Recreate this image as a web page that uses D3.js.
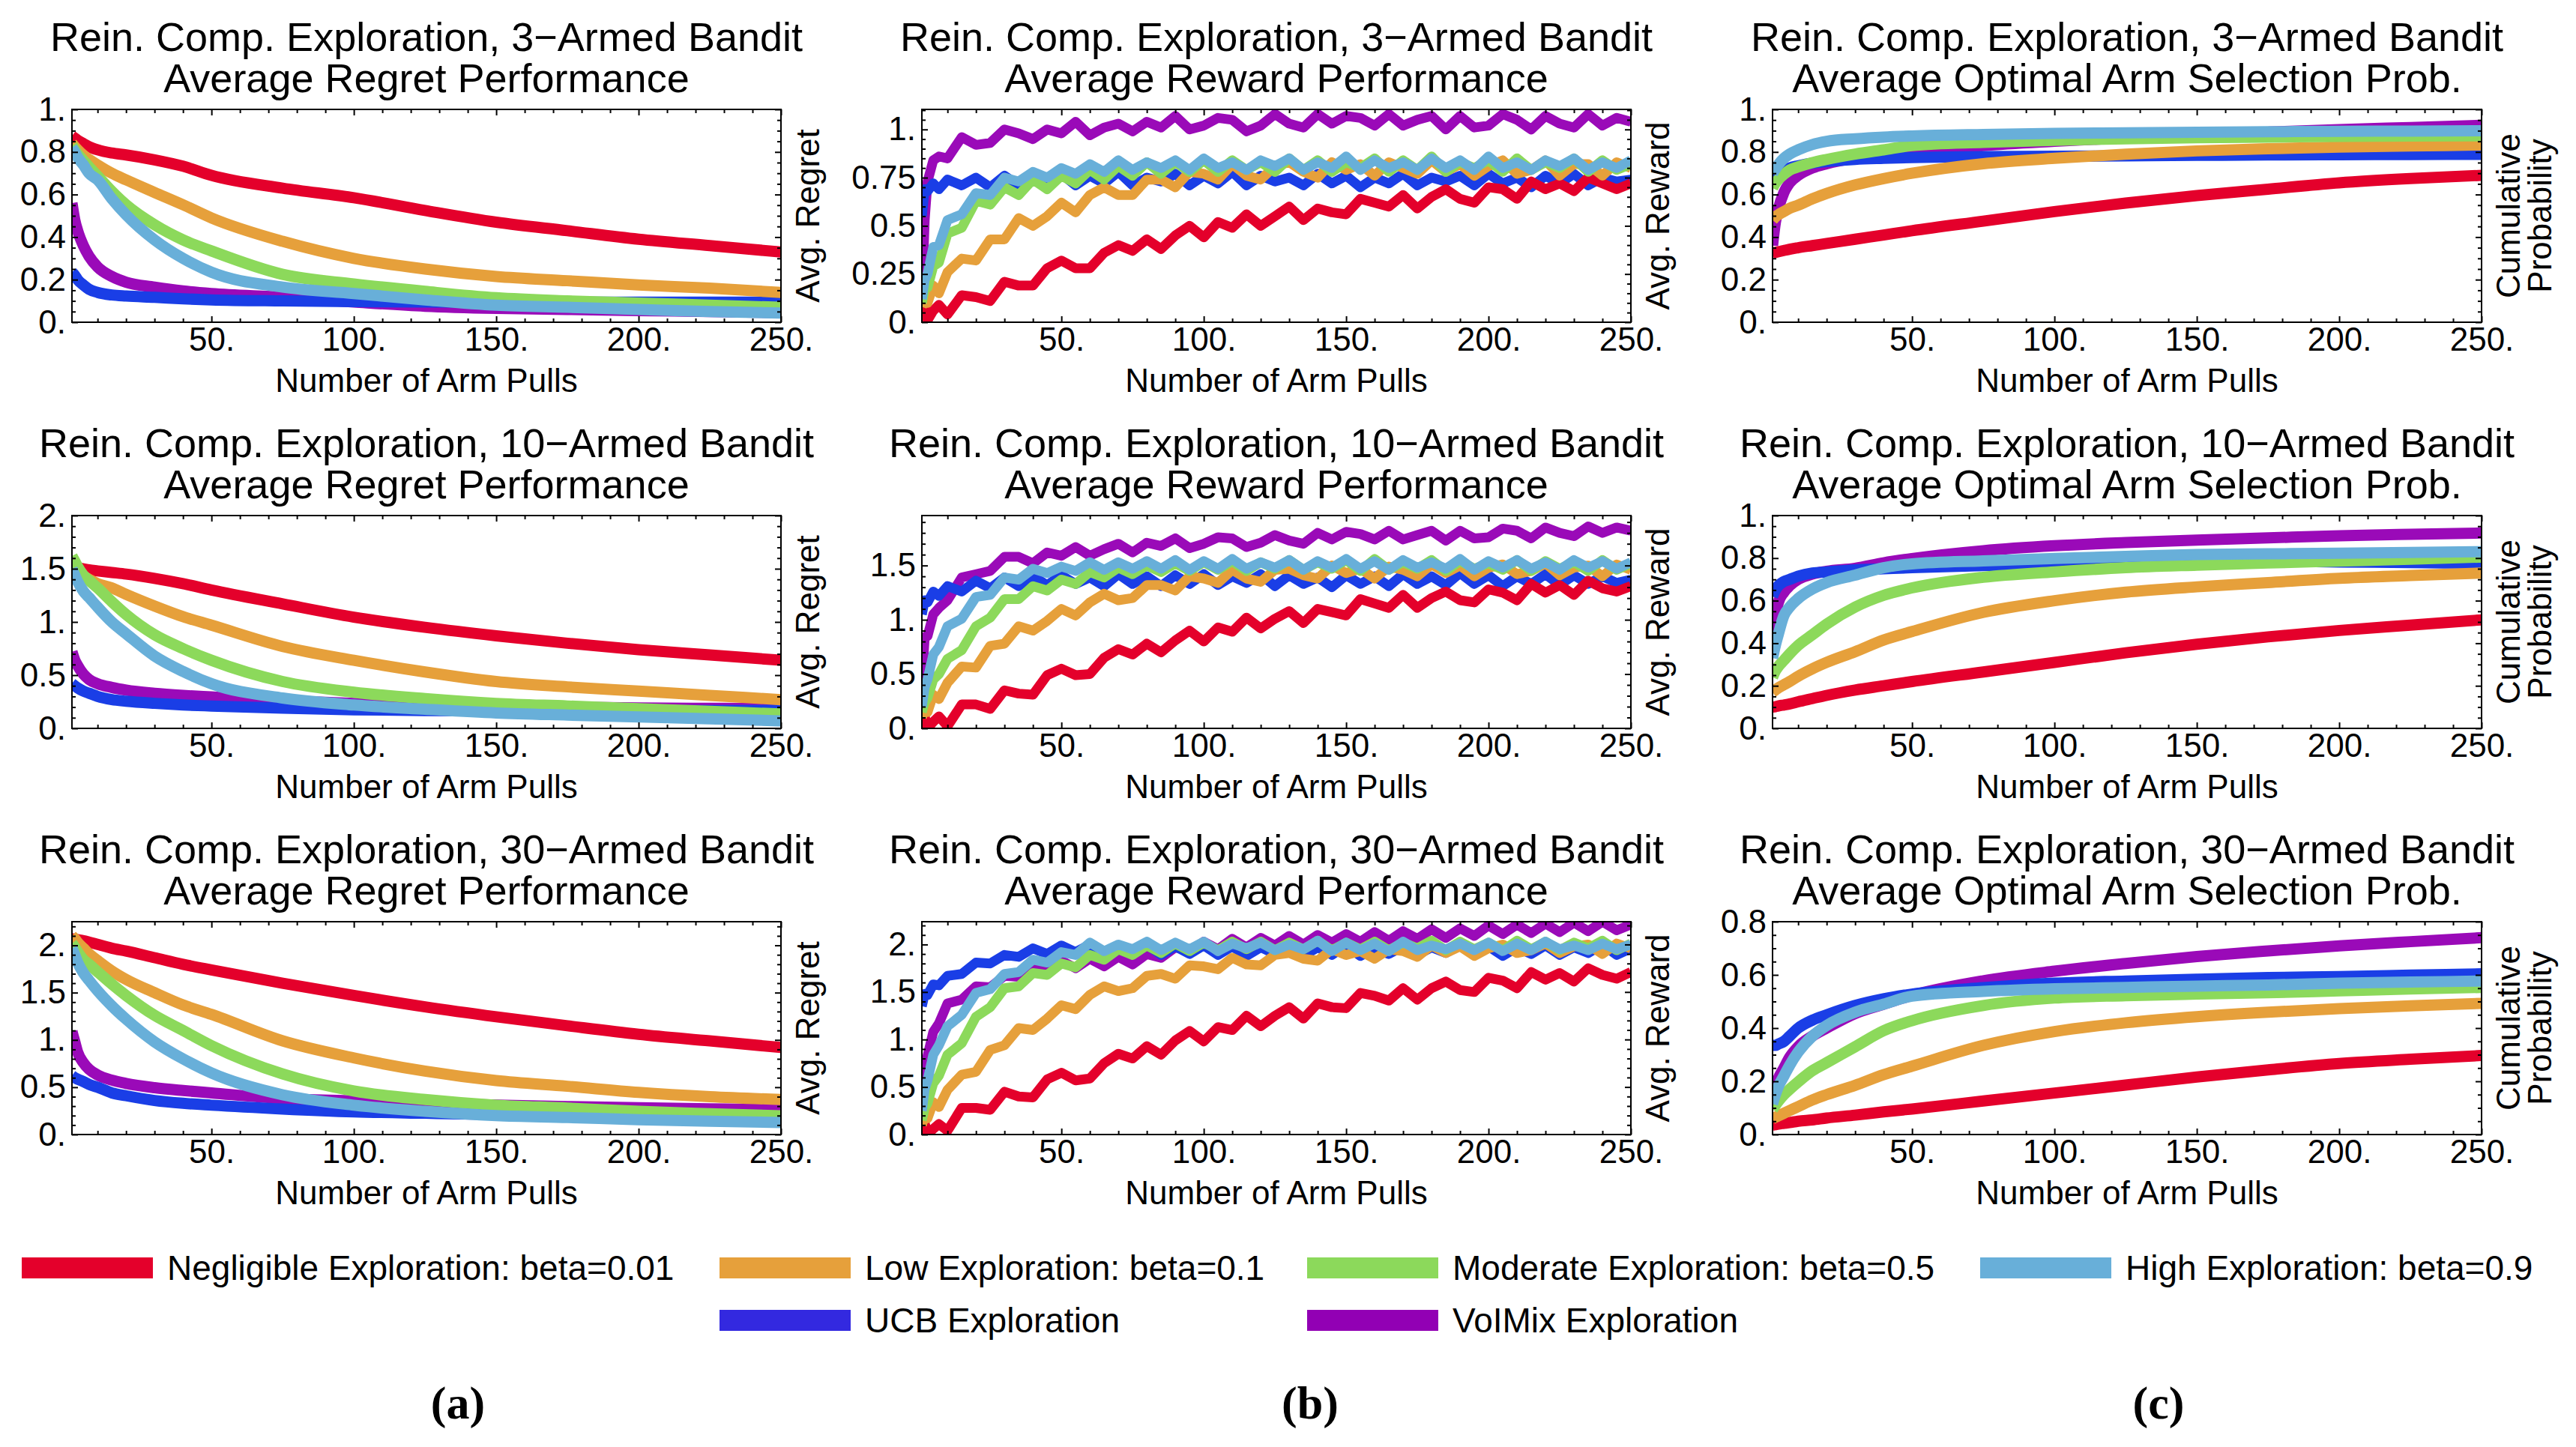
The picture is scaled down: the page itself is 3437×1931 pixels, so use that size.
<!DOCTYPE html>
<html>
<head>
<meta charset="utf-8">
<title>Rein. Comp. Exploration - bandit results</title>
<script src="https://cdnjs.cloudflare.com/ajax/libs/d3/7.8.5/d3.min.js"></script>
<style>
  body { margin: 0; background: #fff; }
  text { font-family: "Liberation Sans", Arial, Helvetica, sans-serif; fill: #000; }
</style>
</head>
<body>
<div id="fig"></div>
<script>
// series order: negligible, low, moderate, high, UCB, VoIMix
var seriesNames = ["Negligible Exploration: beta=0.01", "Low Exploration: beta=0.1",
  "Moderate Exploration: beta=0.5", "High Exploration: beta=0.9", "UCB Exploration", "VoIMix Exploration"];
var armCounts = ["3", "10", "30"];

// x positions of the smooth curves (regret, probability)
var smoothX = [1, 2, 3, 5, 7, 10, 15, 20, 30, 40, 50, 75, 100, 125, 150, 175, 200, 225, 250];
// x positions of the noisy reward curves
var rewardX = [1, 2, 3, 5, 7, 10, 15, 20, 25, 30, 35, 40, 45, 50, 55, 60, 65, 70, 75, 80, 85, 90, 95, 100,
  105, 110, 115, 120, 125, 130, 135, 140, 145, 150, 155, 160, 165, 170, 175, 180, 185, 190, 195, 200,
  205, 210, 215, 220, 225, 230, 235, 240, 245, 250];

// ---- 3-armed ----
var regret3 = [
  [.875, .865, .855, .84, .825, .81, .795, .786, .763, .733, .69, .63, .585, .525, .47, .43, .39, .36, .33],
  [.84, .825, .81, .785, .765, .739, .70, .669, .61, .552, .49, .38, .30, .25, .215, .195, .175, .16, .14],
  [.83, .81, .79, .76, .73, .687, .615, .552, .458, .387, .335, .225, .18, .145, .115, .10, .09, .08, .07],
  [.82, .80, .775, .74, .70, .669, .58, .505, .387, .30, .235, .165, .135, .105, .08, .07, .06, .05, .043],
  [.235, .22, .20, .175, .155, .14, .128, .123, .117, .11, .105, .10, .097, .095, .094, .094, .094, .094, .094],
  [.56, .48, .43, .36, .31, .26, .215, .188, .165, .147, .135, .118, .095, .075, .065, .06, .055, .05, .045]
];
var reward3 = [
  [.03, .09, .01, .06, .09, .04, .14, .13, .11, .21, .19, .19, .28, .32, .28, .28, .36, .40, .37, .43, .38, .45, .50, .44, .52, .49, .56, .50, .55, .60, .53, .59, .57, .56, .64, .62, .60, .66, .59, .65, .69, .64, .62, .70, .69, .64, .73, .69, .72, .68, .75, .72, .69, .72],
  [.08, .12, .10, .19, .15, .26, .33, .32, .43, .43, .54, .50, .55, .62, .57, .66, .70, .66, .66, .74, .74, .70, .78, .77, .74, .82, .76, .74, .81, .83, .78, .75, .83, .79, .82, .76, .83, .80, .77, .84, .78, .82, .76, .81, .84, .77, .79, .84, .76, .82, .82, .76, .83, .80],
  [.10, .17, .18, .29, .31, .46, .49, .63, .61, .70, .66, .74, .69, .76, .72, .79, .74, .81, .76, .83, .77, .83, .78, .84, .78, .84, .79, .83, .78, .85, .79, .84, .78, .83, .80, .85, .78, .84, .79, .86, .78, .83, .80, .84, .78, .85, .79, .83, .80, .85, .78, .84, .79, .82],
  [.12, .22, .25, .39, .40, .53, .56, .67, .66, .75, .73, .78, .75, .80, .77, .82, .78, .84, .79, .83, .80, .84, .79, .85, .80, .83, .79, .84, .81, .85, .79, .83, .80, .86, .79, .84, .80, .83, .79, .85, .80, .84, .79, .86, .80, .83, .79, .84, .81, .85, .79, .83, .80, .84],
  [.55, .69, .68, .72, .69, .74, .71, .75, .70, .76, .71, .75, .72, .77, .71, .76, .72, .78, .71, .75, .73, .77, .71, .76, .72, .78, .71, .76, .73, .75, .71, .77, .72, .76, .70, .75, .72, .77, .71, .75, .73, .76, .71, .77, .72, .75, .70, .76, .72, .77, .71, .75, .73, .74],
  [.10, .53, .73, .84, .86, .85, .96, .92, .93, 1.00, .98, .95, 1.00, .98, 1.04, .97, 1.01, 1.03, .99, 1.04, 1.01, 1.07, 1.00, 1.02, 1.06, 1.05, .99, 1.02, 1.08, 1.03, 1.01, 1.08, 1.03, 1.07, 1.06, 1.02, 1.08, 1.02, 1.05, 1.07, 1.00, 1.07, 1.01, 1.02, 1.08, 1.05, 1.00, 1.07, 1.03, 1.01, 1.08, 1.02, 1.06, 1.04]
];
var prob3 = [
  [.325, .328, .331, .337, .343, .35, .36, .37, .39, .41, .43, .475, .52, .56, .595, .625, .655, .675, .69],
  [.48, .495, .505, .52, .535, .55, .58, .605, .645, .675, .70, .745, .77, .79, .805, .815, .823, .828, .833],
  [.63, .655, .67, .695, .715, .73, .75, .765, .79, .81, .83, .845, .855, .862, .867, .87, .873, .875, .876],
  [.70, .72, .74, .77, .79, .81, .835, .85, .862, .87, .875, .882, .887, .89, .893, .895, .897, .898, .90],
  [.65, .67, .69, .71, .725, .735, .748, .755, .765, .77, .774, .778, .78, .782, .784, .786, .787, .788, .789],
  [.36, .47, .53, .61, .655, .69, .725, .745, .772, .788, .80, .83, .85, .867, .88, .893, .905, .915, .925]
];

// ---- 10-armed ----
var regret10 = [
  [1.52, 1.515, 1.51, 1.50, 1.49, 1.48, 1.465, 1.45, 1.41, 1.36, 1.30, 1.17, 1.045, .95, .87, .80, .74, .69, .64],
  [1.50, 1.48, 1.46, 1.43, 1.40, 1.36, 1.32, 1.26, 1.15, 1.05, .97, .77, .64, .53, .44, .39, .35, .31, .27],
  [1.62, 1.57, 1.52, 1.44, 1.39, 1.32, 1.19, 1.07, .88, .75, .64, .44, .34, .28, .235, .21, .185, .16, .135],
  [1.50, 1.44, 1.38, 1.29, 1.23, 1.14, 1.00, .89, .68, .535, .42, .285, .22, .18, .145, .125, .108, .09, .07],
  [.42, .40, .38, .35, .33, .30, .27, .255, .235, .22, .21, .19, .175, .168, .165, .165, .166, .168, .17],
  [.72, .64, .59, .51, .46, .42, .385, .36, .33, .31, .295, .26, .235, .22, .21, .20, .192, .188, .185]
];
var reward10 = [
  [.03, .11, .00, .06, .11, .02, .22, .22, .18, .35, .32, .31, .49, .55, .49, .50, .65, .73, .68, .78, .70, .81, .90, .80, .93, .89, 1.02, .92, 1.01, 1.08, .97, 1.10, 1.07, 1.04, 1.19, 1.15, 1.11, 1.23, 1.11, 1.20, 1.26, 1.18, 1.16, 1.28, 1.25, 1.18, 1.33, 1.25, 1.32, 1.23, 1.36, 1.29, 1.26, 1.31],
  [.10, .18, .15, .31, .27, .42, .57, .56, .76, .78, .94, .90, .99, 1.10, 1.04, 1.16, 1.24, 1.18, 1.20, 1.32, 1.32, 1.27, 1.40, 1.38, 1.34, 1.46, 1.38, 1.35, 1.46, 1.47, 1.41, 1.38, 1.50, 1.43, 1.47, 1.38, 1.49, 1.46, 1.40, 1.51, 1.43, 1.50, 1.40, 1.48, 1.51, 1.42, 1.45, 1.52, 1.41, 1.48, 1.50, 1.40, 1.51, 1.46],
  [.15, .24, .28, .45, .50, .64, .72, .94, 1.02, 1.19, 1.19, 1.31, 1.27, 1.37, 1.33, 1.44, 1.39, 1.48, 1.42, 1.50, 1.44, 1.52, 1.45, 1.53, 1.46, 1.54, 1.45, 1.53, 1.47, 1.55, 1.46, 1.53, 1.47, 1.55, 1.45, 1.56, 1.46, 1.53, 1.47, 1.55, 1.45, 1.54, 1.47, 1.52, 1.46, 1.55, 1.45, 1.54, 1.47, 1.53, 1.45, 1.55, 1.46, 1.52],
  [.20, .38, .45, .68, .75, .94, 1.01, 1.21, 1.23, 1.39, 1.37, 1.47, 1.43, 1.49, 1.45, 1.53, 1.46, 1.53, 1.47, 1.54, 1.47, 1.55, 1.46, 1.54, 1.47, 1.56, 1.47, 1.53, 1.48, 1.55, 1.46, 1.54, 1.48, 1.56, 1.47, 1.54, 1.46, 1.55, 1.48, 1.53, 1.47, 1.56, 1.46, 1.54, 1.48, 1.55, 1.47, 1.53, 1.46, 1.55, 1.48, 1.54, 1.47, 1.53],
  [1.05, 1.18, 1.16, 1.26, 1.22, 1.31, 1.26, 1.36, 1.29, 1.39, 1.31, 1.40, 1.32, 1.41, 1.33, 1.39, 1.31, 1.42, 1.33, 1.40, 1.31, 1.41, 1.33, 1.42, 1.32, 1.40, 1.34, 1.42, 1.31, 1.41, 1.33, 1.39, 1.30, 1.41, 1.33, 1.40, 1.31, 1.42, 1.33, 1.40, 1.32, 1.43, 1.33, 1.41, 1.31, 1.40, 1.33, 1.42, 1.32, 1.41, 1.33, 1.40, 1.34, 1.37],
  [.40, .84, .85, 1.05, 1.11, 1.18, 1.39, 1.42, 1.45, 1.58, 1.58, 1.52, 1.62, 1.59, 1.67, 1.59, 1.65, 1.70, 1.62, 1.71, 1.68, 1.75, 1.66, 1.70, 1.76, 1.75, 1.67, 1.71, 1.78, 1.73, 1.70, 1.80, 1.74, 1.81, 1.79, 1.74, 1.82, 1.74, 1.78, 1.82, 1.73, 1.82, 1.75, 1.76, 1.84, 1.82, 1.75, 1.85, 1.80, 1.77, 1.86, 1.80, 1.85, 1.82]
];
var prob10 = [
  [.10, .102, .105, .11, .115, .125, .14, .155, .18, .20, .22, .265, .31, .355, .395, .43, .46, .485, .51],
  [.17, .18, .19, .205, .22, .245, .28, .31, .36, .415, .455, .545, .60, .64, .665, .685, .705, .718, .73],
  [.24, .27, .29, .32, .35, .39, .44, .49, .57, .625, .66, .71, .735, .755, .767, .777, .786, .795, .805],
  [.33, .39, .44, .53, .57, .61, .655, .685, .72, .755, .773, .787, .798, .808, .817, .82, .823, .827, .83],
  [.62, .65, .67, .69, .70, .715, .73, .735, .745, .75, .755, .765, .773, .78, .784, .785, .782, .779, .776],
  [.38, .51, .59, .64, .67, .70, .725, .738, .752, .778, .798, .835, .858, .873, .885, .895, .905, .912, .918]
];

// ---- 30-armed ----
var regret30 = [
  [2.07, 2.065, 2.06, 2.05, 2.035, 2.01, 1.97, 1.94, 1.87, 1.80, 1.74, 1.60, 1.47, 1.35, 1.245, 1.15, 1.06, .99, .92],
  [2.10, 2.07, 2.03, 1.97, 1.91, 1.84, 1.73, 1.64, 1.50, 1.37, 1.27, .99, .81, .67, .57, .51, .445, .40, .37],
  [2.02, 1.98, 1.93, 1.85, 1.80, 1.72, 1.59, 1.47, 1.26, 1.10, .94, .64, .46, .37, .31, .28, .245, .22, .198],
  [1.97, 1.90, 1.82, 1.71, 1.63, 1.52, 1.36, 1.22, .98, .80, .65, .42, .31, .245, .20, .18, .157, .14, .127],
  [.62, .60, .585, .56, .53, .50, .44, .41, .36, .33, .31, .27, .24, .225, .212, .205, .198, .19, .185],
  [1.09, .98, .87, .76, .69, .63, .575, .54, .495, .465, .44, .38, .355, .33, .31, .295, .283, .272, .263]
];
var reward30 = [
  [.03, .12, .00, .06, .11, .04, .28, .28, .26, .45, .40, .39, .58, .65, .57, .59, .75, .85, .80, .93, .84, .99, 1.09, .98, 1.13, 1.10, 1.25, 1.14, 1.25, 1.34, 1.22, 1.38, 1.34, 1.33, 1.49, 1.46, 1.41, 1.54, 1.42, 1.54, 1.61, 1.52, 1.50, 1.65, 1.62, 1.54, 1.71, 1.63, 1.70, 1.61, 1.75, 1.68, 1.64, 1.71],
  [.10, .19, .17, .34, .29, .47, .63, .66, .89, .94, 1.12, 1.10, 1.22, 1.36, 1.32, 1.47, 1.56, 1.51, 1.54, 1.67, 1.69, 1.64, 1.78, 1.77, 1.74, 1.86, 1.79, 1.78, 1.89, 1.91, 1.85, 1.83, 1.95, 1.89, 1.93, 1.85, 1.95, 1.93, 1.87, 1.99, 1.91, 1.98, 1.88, 1.96, 2.00, 1.91, 1.94, 2.01, 1.91, 1.98, 2.00, 1.90, 2.01, 1.96],
  [.15, .28, .33, .54, .62, .84, .96, 1.24, 1.34, 1.54, 1.56, 1.70, 1.68, 1.80, 1.76, 1.89, 1.84, 1.95, 1.89, 1.99, 1.91, 2.01, 1.93, 2.02, 1.94, 2.03, 1.95, 2.03, 1.94, 2.02, 1.95, 2.04, 1.94, 2.02, 1.95, 2.03, 1.94, 2.02, 1.96, 2.04, 1.94, 2.03, 1.95, 2.02, 1.94, 2.04, 1.95, 2.03, 1.94, 2.02, 1.96, 2.04, 1.94, 2.01],
  [.25, .48, .57, .84, .94, 1.14, 1.26, 1.49, 1.53, 1.69, 1.71, 1.84, 1.81, 1.92, 1.89, 2.02, 1.93, 2.00, 1.95, 2.03, 1.94, 2.02, 1.95, 2.03, 1.93, 2.01, 1.96, 2.02, 1.94, 2.00, 1.95, 2.04, 1.93, 2.02, 1.94, 2.01, 1.93, 2.03, 1.94, 1.99, 1.95, 2.01, 1.94, 2.02, 1.93, 2.01, 1.94, 2.03, 1.95, 1.99, 1.94, 2.01, 1.95, 2.00],
  [1.35, 1.48, 1.47, 1.58, 1.57, 1.67, 1.69, 1.81, 1.80, 1.89, 1.87, 1.96, 1.90, 1.99, 1.92, 2.00, 1.90, 1.99, 1.91, 2.00, 1.89, 1.98, 1.90, 1.99, 1.89, 1.98, 1.88, 1.97, 1.90, 1.98, 1.88, 1.97, 1.89, 1.99, 1.88, 1.96, 1.90, 1.98, 1.89, 1.97, 1.91, 1.99, 1.89, 1.98, 1.88, 1.97, 1.90, 1.99, 1.89, 1.97, 1.91, 2.00, 1.89, 1.96],
  [.25, .62, .83, 1.08, 1.17, 1.38, 1.42, 1.56, 1.55, 1.67, 1.66, 1.78, 1.74, 1.83, 1.75, 1.85, 1.77, 1.87, 1.79, 1.90, 1.86, 1.97, 1.93, 2.03, 1.95, 2.06, 1.97, 2.07, 1.99, 2.09, 2.00, 2.10, 2.02, 2.11, 2.03, 2.13, 2.04, 2.14, 2.06, 2.16, 2.07, 2.17, 2.09, 2.20, 2.11, 2.21, 2.12, 2.22, 2.13, 2.23, 2.14, 2.24, 2.15, 2.21]
];
var prob30 = [
  [.035, .037, .039, .042, .045, .05, .055, .062, .073, .085, .096, .126, .156, .186, .216, .243, .267, .283, .297],
  [.06, .065, .07, .08, .09, .105, .13, .15, .185, .225, .257, .335, .387, .42, .443, .46, .473, .484, .493],
  [.095, .11, .125, .15, .17, .198, .24, .27, .33, .39, .428, .485, .513, .522, .528, .533, .54, .547, .553],
  [.115, .15, .18, .22, .26, .31, .37, .41, .46, .49, .52, .538, .548, .553, .558, .562, .569, .573, .577],
  [.335, .335, .34, .35, .37, .40, .43, .45, .485, .51, .528, .552, .569, .577, .584, .59, .594, .599, .604],
  [.15, .18, .21, .25, .29, .33, .37, .40, .455, .49, .523, .578, .614, .643, .669, .69, .709, .725, .74]
];

// tick labels
var xMajor = [50, 100, 150, 200, 250];
var yTicksProb = [0, .2, .4, .6, .8, 1];
var yTicksReward3 = [0, .25, .5, .75, 1];
var yTicksHalf = [0, .5, 1, 1.5, 2];
var yTicksReward10 = [0, .5, 1, 1.5];
var yTicksProb30 = [0, .2, .4, .6, .8];

// styling
var lineColors = ["#e4002b", "#e6a03b", "#8cd95b", "#68afd9", "#1a3ee6", "#9a0ab8"];
var swatchColors = ["#e4002b", "#e6a03b", "#8cd95b", "#68afd9", "#3329e0", "#9200b4"];
var drawOrder = [5, 4, 0, 1, 2, 3];

var W = 3437, H = 1931;
var colLeft = [96, 1230, 2365], rowTop = [146, 688, 1230];
var fw = 946, fh = 284;

var colTitle = ["Average Regret Performance", "Average Reward Performance", "Average Optimal Arm Selection Prob."];
var colYLabel = [["Avg. Regret"], ["Avg. Reward"], ["Cumulative", "Probability"]];

var panels = [
  { row: 0, col: 0, ys: regret3, ymax: 1, yt: yTicksProb, minor: .05 },
  { row: 0, col: 1, ys: reward3, ymax: 1.104, yt: yTicksReward3, minor: .05 },
  { row: 0, col: 2, ys: prob3, ymax: 1, yt: yTicksProb, minor: .05 },
  { row: 1, col: 0, ys: regret10, ymax: 2, yt: yTicksHalf, minor: .1 },
  { row: 1, col: 1, ys: reward10, ymax: 1.96, yt: yTicksReward10, minor: .1 },
  { row: 1, col: 2, ys: prob10, ymax: 1, yt: yTicksProb, minor: .05 },
  { row: 2, col: 0, ys: regret30, ymax: 2.25, yt: yTicksHalf, minor: .1 },
  { row: 2, col: 1, ys: reward30, ymax: 2.24, yt: yTicksHalf, minor: .1 },
  { row: 2, col: 2, ys: prob30, ymax: 0.8, yt: yTicksProb30, minor: .05 }
];

function fmt(v) { return Number.isInteger(v) ? v + "." : String(v); }

var svg = d3.select("#fig").append("svg").attr("width", W).attr("height", H);
svg.append("rect").attr("width", W).attr("height", H).attr("fill", "#fff");
var defs = svg.append("defs");

function styleAxis(g, size) {
  g.select(".domain").remove();
  g.attr("font-size", size).attr("font-family", null);
  g.selectAll(".tick line").attr("stroke", "#000").attr("stroke-width", 2);
  g.selectAll(".tick text").attr("fill", "#000");
}

panels.forEach(function (p, i) {
  var g = svg.append("g").attr("transform", "translate(" + colLeft[p.col] + "," + rowTop[p.row] + ")");
  var x = d3.scaleLinear().domain([1, 250]).range([0, fw]);
  var y = d3.scaleLinear().domain([0, p.ymax]).range([fh, 0]);
  var smooth = p.col !== 1;
  var xs = smooth ? smoothX : rewardX;

  defs.append("clipPath").attr("id", "clip" + i)
    .append("rect").attr("width", fw).attr("height", fh);

  var line = d3.line()
    .x(function (d, j) { return x(xs[j]); })
    .y(function (d) { return y(d); })
    .curve(smooth ? d3.curveMonotoneX : d3.curveLinear);

  var lines = g.append("g").attr("clip-path", "url(#clip" + i + ")");
  drawOrder.forEach(function (s) {
    lines.append("path")
      .attr("d", line(p.ys[s]))
      .attr("fill", "none")
      .attr("stroke", lineColors[s])
      .attr("stroke-width", smooth ? 15 : 13)
      .attr("stroke-linejoin", "round");
  });

  var xMinor = d3.range(10, 250, 10).filter(function (v) { return v % 50 !== 0; });
  var yMinor = d3.range(0, p.ymax + 1e-9, p.minor).filter(function (v) {
    return !p.yt.some(function (t) { return Math.abs(t - v) < 1e-9; });
  });

  // major ticks with labels
  styleAxis(g.append("g").attr("transform", "translate(0," + fh + ")")
    .call(d3.axisBottom(x).tickValues(xMajor).tickSize(-8).tickPadding(7).tickFormat(fmt)), 44);
  styleAxis(g.append("g")
    .call(d3.axisLeft(y).tickValues(p.yt).tickSize(-8).tickPadding(8).tickFormat(fmt)), 44);
  // unlabelled ticks on the other sides and minor ticks
  styleAxis(g.append("g").call(d3.axisTop(x).tickValues(xMajor).tickSize(-8).tickFormat("")), 44);
  styleAxis(g.append("g").attr("transform", "translate(" + fw + ",0)")
    .call(d3.axisRight(y).tickValues(p.yt).tickSize(-8).tickFormat("")), 44);
  styleAxis(g.append("g").attr("transform", "translate(0," + fh + ")")
    .call(d3.axisBottom(x).tickValues(xMinor).tickSize(-5).tickFormat("")), 44);
  styleAxis(g.append("g").call(d3.axisTop(x).tickValues(xMinor).tickSize(-5).tickFormat("")), 44);
  styleAxis(g.append("g").call(d3.axisLeft(y).tickValues(yMinor).tickSize(-5).tickFormat("")), 44);
  styleAxis(g.append("g").attr("transform", "translate(" + fw + ",0)")
    .call(d3.axisRight(y).tickValues(yMinor).tickSize(-5).tickFormat("")), 44);

  g.append("rect").attr("width", fw).attr("height", fh)
    .attr("fill", "none").attr("stroke", "#000").attr("stroke-width", 2);

  // titles
  g.append("text").attr("x", fw / 2).attr("y", -78).attr("text-anchor", "middle")
    .attr("font-size", 54).text("Rein. Comp. Exploration, " + armCounts[p.row] + "\u2212Armed Bandit");
  g.append("text").attr("x", fw / 2).attr("y", -23).attr("text-anchor", "middle")
    .attr("font-size", 54).text(colTitle[p.col]);

  g.append("text").attr("x", fw / 2).attr("y", fh + 93).attr("text-anchor", "middle")
    .attr("font-size", 44).text("Number of Arm Pulls");

  colYLabel[p.col].forEach(function (t, k) {
    g.append("text")
      .attr("transform", "translate(" + (fw + 51 + 42 * k) + "," + fh / 2 + ") rotate(-90)")
      .attr("text-anchor", "middle").attr("font-size", 44).text(t);
  });
});

// legend
var legendPos = [[29, 1692], [960, 1692], [1744, 1692], [2642, 1692], [960, 1762], [1744, 1762]];
var legend = svg.append("g");
seriesNames.forEach(function (name, i) {
  var lg = legend.append("g").attr("transform", "translate(" + legendPos[i][0] + "," + legendPos[i][1] + ")");
  lg.append("rect").attr("x", 0).attr("y", -14).attr("width", 175).attr("height", 28).attr("fill", swatchColors[i]);
  lg.append("text").attr("x", 194).attr("y", 16).attr("font-size", 46).text(name);
});

// sub-figure labels
var subLabels = ["(a)", "(b)", "(c)"];
var subX = [611, 1748, 2880];
subLabels.forEach(function (t, i) {
  svg.append("text").attr("x", subX[i]).attr("y", 1893).attr("text-anchor", "middle")
    .attr("font-size", 62).attr("font-weight", "bold")
    .style("font-family", "'Liberation Serif', 'DejaVu Serif', serif").text(t);
});
</script>
</body>
</html>
